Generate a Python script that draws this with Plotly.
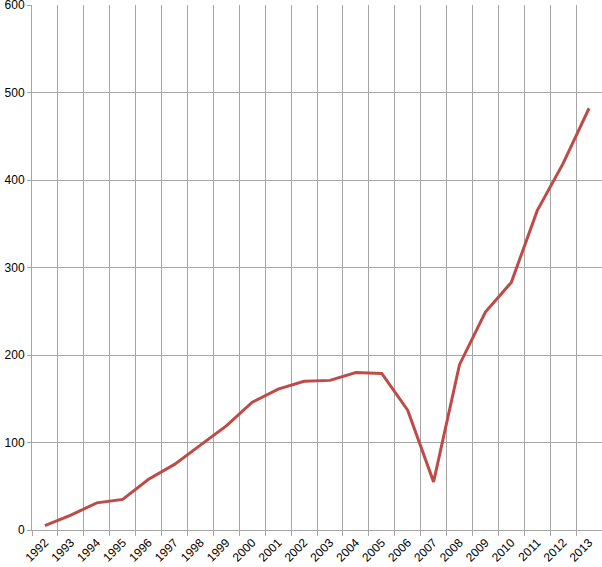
import plotly.graph_objects as go

years = [str(y) for y in range(1992, 2014)]
values = [5, 17, 31, 35, 58, 75, 97, 119, 146, 161, 170, 171, 180, 179,
          137, 55, 189, 249, 283, 365, 419, 482]
y_ticks = [0, 100, 200, 300, 400, 500, 600]

fig = go.Figure(go.Scatter(
    x=years, y=values, mode="lines",
    line=dict(color="#BE4B48", width=3),
    hoverinfo="skip",
))

grid = "#a6a6a6"
font = dict(family="Liberation Sans, Arial, sans-serif", size=12, color="#000000")

fig.update_layout(
    width=602, height=567,
    margin=dict(l=32, r=0, t=5, b=37, autoexpand=False),
    paper_bgcolor="white", plot_bgcolor="white",
    showlegend=False,
    font=font,
    xaxis=dict(
        type="category", tickson="boundaries", tickangle=-45,
        range=[-0.5, len(years) - 0.5],
        showgrid=True, gridcolor=grid, gridwidth=1,
        showline=True, linecolor=grid, linewidth=1,
        ticks="outside", ticklen=5, tickcolor=grid,
        tickfont=font, fixedrange=True, automargin=False,
        ticklabeloverflow="allow",
    ),
    yaxis=dict(
        range=[0, 600], tickvals=y_ticks,
        showgrid=True, gridcolor=grid, gridwidth=1,
        showline=True, linecolor=grid, linewidth=1,
        ticks="outside", ticklen=4, tickcolor=grid,
        zeroline=False, tickfont=font, fixedrange=True, automargin=False,
        ticklabeloverflow="allow",
    ),
)

fig.write_html(
    "out.html",
    config={"displayModeBar": False},
    post_script="document.body.style.margin='0';document.body.style.overflow='hidden';",
)
